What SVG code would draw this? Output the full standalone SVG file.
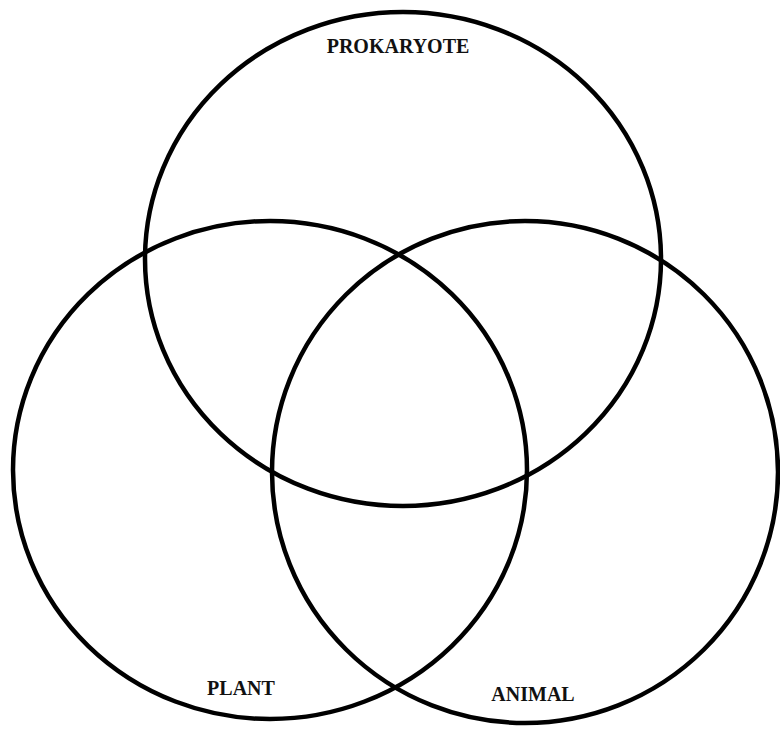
<svg xmlns="http://www.w3.org/2000/svg" width="780" height="729" viewBox="0 0 780 729">
<style>
.c{fill:none;stroke:#000;stroke-width:4.5}
.t{font-family:"Liberation Serif",serif;font-weight:bold;font-size:20px;fill:#111;text-anchor:middle}
</style>
<rect width="780" height="729" fill="#fff"/>
<g id="prokaryote"><ellipse class="c" cx="403" cy="259" rx="258" ry="247"/><text class="t" x="398" y="53">PROKARYOTE</text></g>
<g id="plant"><ellipse class="c" cx="270" cy="470" rx="257" ry="249"/><text class="t" x="241" y="695">PLANT</text></g>
<g id="animal"><ellipse class="c" cx="525" cy="472" rx="253" ry="251"/><text class="t" x="533" y="701">ANIMAL</text></g>
</svg>
